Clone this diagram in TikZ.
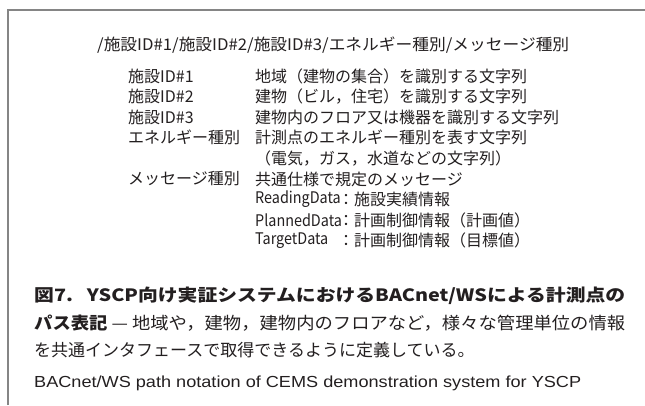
\documentclass[tikz,border=0pt]{standalone}
\usepackage{graphicx}
\usepackage{fontspec}
\setmainfont{Noto Sans CJK JP}
\newfontfamily\engfont{Liberation Sans}
\definecolor{ink}{HTML}{231F20}
\definecolor{frame}{HTML}{858585}

% set #2 horizontally scaled so that it is #1 wide
\newlength\fitlen
\newcommand\fitto[2]{\settowidth\fitlen{#2}\scalebox{\fpeval{(#1)/\fitlen}}[1]{#2}}
% condensed Latin words in the table
\newcommand\narrow[1]{\scalebox{0.9}[1]{#1}}

\begin{document}
\begin{tikzpicture}[x=1pt,y=-1pt,
  txt/.style={anchor=west, inner sep=0pt, text=ink, font=\fontsize{16}{16}\selectfont},
  captext/.style={anchor=west, inner sep=0pt, text=ink, font=\fontsize{17}{17}\selectfont},
  engtext/.style={anchor=west, inner sep=0pt, text=ink, font=\engfont\fontsize{16}{16}\selectfont}]
\useasboundingbox (0,0) rectangle (645,405);

% frame lines (top and left)
\draw[frame, line width=1.5pt] (8,405) -- (8,10) -- (645,10);

% path notation
\node[txt] (path) at (97,45) {\fitto{472pt}{/施設ID\#1/施設ID\#2/施設ID\#3/エネルギー種別/メッセージ種別}};

% definition table
\node[txt] (k1) at (128,76)  {施設ID\#1};
\node[txt] (v1) at (255,76)  {地域（建物の集合）を識別する文字列};
\node[txt] (k2) at (128,96.6)  {施設ID\#2};
\node[txt] (v2) at (255,96.6)  {建物（ビル，住宅）を識別する文字列};
\node[txt] (k3) at (128,117.2) {施設ID\#3};
\node[txt] (v3) at (255,117.2) {建物内のフロア又は機器を識別する文字列};
\node[txt] (k4) at (128,137.8) {エネルギー種別};
\node[txt] (v4) at (255,137.8) {計測点のエネルギー種別を表す文字列};
\node[txt] (v4b) at (255,158.4) {（電気，ガス，水道などの文字列）};
\node[txt] (k5) at (128,179) {メッセージ種別};
\node[txt] (v5) at (255,179) {共通仕様で規定のメッセージ};
\node[txt] (m1) at (255,199.6) {\narrow{ReadingData}};
\node[txt] (m1v) at (338,199.6) {：施設実績情報};
\node[txt] (m2) at (255,220.2) {\narrow{PlannedData}};
\node[txt] (m2v) at (338,220.2) {：計画制御情報（計画値）};
\node[txt] (m3) at (255,240.8) {\narrow{TargetData}};
\node[txt] (m3v) at (338,240.8) {：計画制御情報（目標値）};

% caption
\node[captext, font=\fontsize{17}{17}\selectfont\bfseries] (c1) at (34,296) {\fitto{591pt}{図7.\hspace{12pt}YSCP向け実証システムにおけるBACnet/WSによる計測点の}};
\node[captext] (c2) at (34,323) {\fitto{591pt}{\textbf{パス表記} — 地域や，建物，建物内のフロアなど，様々な管理単位の情報}};
\node[captext] (c3) at (34,350) {を共通インタフェースで取得できるように定義している。};
\node[engtext] (c4) at (34,383) {\fitto{547pt}{BACnet/WS path notation of CEMS demonstration system for YSCP}};
\end{tikzpicture}
\end{document}
